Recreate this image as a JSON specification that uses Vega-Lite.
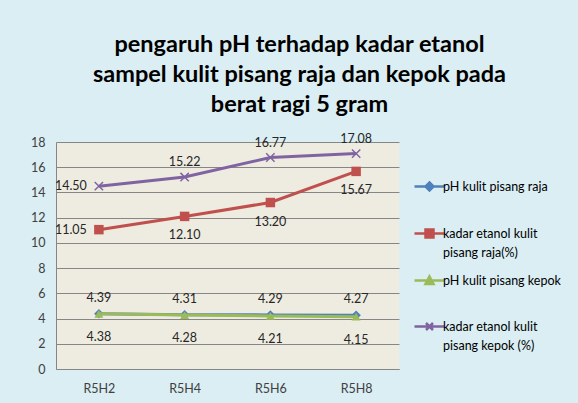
{
  "$schema": "https://vega.github.io/schema/vega-lite/v6.json",
  "autosize": "none",
  "width": 343,
  "height": 227,
  "padding": {"left": 56, "top": 142, "right": 179, "bottom": 34},
  "background": "#DAEEF3",
  "config": {
    "view": {"fill": "#EEECE1", "stroke": null},
    "font": "Lato",
    "axis": {"labelFont": "Lato", "labelColor": "#404040", "domainColor": "#868686", "gridColor": "#868686", "ticks": false, "title": null},
    "legend": {
      "labelFont": "Lato", "labelFontSize": 12.5, "labelColor": "#000000", "labelLineHeight": 19,
      "labelBaseline": "alphabetic", "labelOffset": 7, "labelLimit": 200,
      "symbolSize": 100, "symbolStrokeWidth": 2.5, "symbolOpacity": 1,
      "rowPadding": 12, "padding": 0
    }
  },
  "title": {
    "text": ["pengaruh pH terhadap kadar etanol", "sampel kulit pisang raja dan kepok pada", "berat ragi 5 gram"],
    "font": "Lato",
    "fontSize": 23.5,
    "fontWeight": "bold",
    "color": "#000000",
    "lineHeight": 30,
    "anchor": "middle",
    "dx": 72,
    "offset": 16
  },
  "data": {
    "values": [
      {"cat": "R5H2", "series": "pH kulit pisang raja", "value": 4.39},
      {"cat": "R5H4", "series": "pH kulit pisang raja", "value": 4.31},
      {"cat": "R5H6", "series": "pH kulit pisang raja", "value": 4.29},
      {"cat": "R5H8", "series": "pH kulit pisang raja", "value": 4.27},
      {"cat": "R5H2", "series": "kadar etanol kulit pisang raja(%)", "value": 11.05},
      {"cat": "R5H4", "series": "kadar etanol kulit pisang raja(%)", "value": 12.10},
      {"cat": "R5H6", "series": "kadar etanol kulit pisang raja(%)", "value": 13.20},
      {"cat": "R5H8", "series": "kadar etanol kulit pisang raja(%)", "value": 15.67},
      {"cat": "R5H2", "series": "pH kulit pisang kepok", "value": 4.38},
      {"cat": "R5H4", "series": "pH kulit pisang kepok", "value": 4.28},
      {"cat": "R5H6", "series": "pH kulit pisang kepok", "value": 4.21},
      {"cat": "R5H8", "series": "pH kulit pisang kepok", "value": 4.15},
      {"cat": "R5H2", "series": "kadar etanol kulit pisang kepok (%)", "value": 14.50},
      {"cat": "R5H4", "series": "kadar etanol kulit pisang kepok (%)", "value": 15.22},
      {"cat": "R5H6", "series": "kadar etanol kulit pisang kepok (%)", "value": 16.77},
      {"cat": "R5H8", "series": "kadar etanol kulit pisang kepok (%)", "value": 17.08}
    ]
  },
  "encoding": {
    "x": {
      "field": "cat", "type": "ordinal",
      "scale": {"type": "point", "padding": 0.5},
      "axis": {"labelAngle": 0, "labelFontSize": 12.5, "labelPadding": 13, "labelBaseline": "top", "domain": true}
    },
    "y": {
      "field": "value", "type": "quantitative",
      "scale": {"domain": [0, 18], "nice": false},
      "axis": {"values": [0, 2, 4, 6, 8, 10, 12, 14, 16, 18], "grid": true, "labelFontSize": 12.5, "labelPadding": 11, "domain": true}
    }
  },
  "layer": [
    {
      "mark": {"type": "point", "filled": true, "size": 0, "opacity": 1},
      "encoding": {
        "color": {
          "field": "series", "type": "nominal",
          "scale": {
            "domain": ["pH kulit pisang raja", "kadar etanol kulit pisang raja(%)", "pH kulit pisang kepok", "kadar etanol kulit pisang kepok (%)"],
            "range": ["#4F81BD", "#C0504D", "#9BBB59", "#8064A2"]
          },
          "legend": {
            "orient": "none", "legendX": 367, "legendY": 38, "title": null,
            "labelFontSize": 12.5, "labelLineHeight": 19, "labelOffset": 7, "rowPadding": 12,
            "labelExpr": "datum.label == 'kadar etanol kulit pisang raja(%)' ? ['kadar etanol kulit', 'pisang raja(%)'] : datum.label == 'kadar etanol kulit pisang kepok (%)' ? ['kadar etanol kulit', 'pisang kepok (%)'] : [datum.label, '']",
            "encode": {"labels": {"update": {"dy": {"value": 4}, "fontSize": {"value": 12.5}, "lineHeight": {"value": 19}}}}
          }
        },
        "stroke": {
          "field": "series", "type": "nominal",
          "scale": {
            "domain": ["pH kulit pisang raja", "kadar etanol kulit pisang raja(%)", "pH kulit pisang kepok", "kadar etanol kulit pisang kepok (%)"],
            "range": ["#4F81BD", "#C0504D", "#9BBB59", "#8064A2"]
          },
          "legend": {"orient": "none", "legendX": 367, "legendY": 38, "title": null,
            "labelFontSize": 12.5, "labelLineHeight": 19, "labelOffset": 7, "rowPadding": 12,
            "labelExpr": "datum.label == 'kadar etanol kulit pisang raja(%)' ? ['kadar etanol kulit', 'pisang raja(%)'] : datum.label == 'kadar etanol kulit pisang kepok (%)' ? ['kadar etanol kulit', 'pisang kepok (%)'] : [datum.label, '']",
            "encode": {"labels": {"update": {"dy": {"value": 4}, "fontSize": {"value": 12.5}, "lineHeight": {"value": 19}}}}}
        },
        "shape": {
          "field": "series", "type": "nominal",
          "scale": {
            "domain": ["pH kulit pisang raja", "kadar etanol kulit pisang raja(%)", "pH kulit pisang kepok", "kadar etanol kulit pisang kepok (%)"],
            "range": [
              "M-3,0H3M0,-0.8L0.8,0L0,0.8L-0.8,0Z",
              "M-3,0H3M-0.8,-0.8H0.8V0.8H-0.8Z",
              "M-3,0H3M0,-0.8L0.8,0.7H-0.8Z",
              "M-3,0H3M-0.7,-0.7L0.7,0.7M-0.7,0.7L0.7,-0.7"
            ]
          },
          "legend": {"orient": "none", "legendX": 367, "legendY": 38, "title": null,
            "labelFontSize": 12.5, "labelLineHeight": 19, "labelOffset": 7, "rowPadding": 12,
            "labelExpr": "datum.label == 'kadar etanol kulit pisang raja(%)' ? ['kadar etanol kulit', 'pisang raja(%)'] : datum.label == 'kadar etanol kulit pisang kepok (%)' ? ['kadar etanol kulit', 'pisang kepok (%)'] : [datum.label, '']",
            "encode": {"labels": {"update": {"dy": {"value": 4}, "fontSize": {"value": 12.5}, "lineHeight": {"value": 19}}}}}
        }
      }
    },
    {
      "transform": [{"filter": "datum.series == 'pH kulit pisang raja'"}],
      "mark": {"type": "line", "strokeWidth": 3, "color": "#4F81BD",
        "point": {"shape": "diamond", "filled": true, "size": 90, "opacity": 1, "color": "#4F81BD"}}
    },
    {
      "transform": [{"filter": "datum.series == 'kadar etanol kulit pisang raja(%)'"}],
      "mark": {"type": "line", "strokeWidth": 3, "color": "#C0504D",
        "point": {"shape": "square", "filled": true, "size": 90, "opacity": 1, "color": "#C0504D"}}
    },
    {
      "transform": [{"filter": "datum.series == 'pH kulit pisang kepok'"}],
      "mark": {"type": "line", "strokeWidth": 3, "color": "#9BBB59",
        "point": {"shape": "triangle-up", "filled": true, "size": 80, "opacity": 1, "color": "#9BBB59"}}
    },
    {
      "transform": [{"filter": "datum.series == 'kadar etanol kulit pisang kepok (%)'"}],
      "mark": {"type": "line", "strokeWidth": 3, "color": "#8064A2",
        "point": {"shape": "M-1,-1L1,1M-1,1L1,-1", "filled": false, "size": 70, "strokeWidth": 1.5, "opacity": 1, "color": "#8064A2"}}
    },
    {
      "transform": [{"filter": "datum.series == 'pH kulit pisang raja'"}],
      "mark": {"type": "text", "dy": -16, "fontSize": 12.5, "color": "#262626"},
      "encoding": {"text": {"field": "value", "type": "quantitative", "format": ".2f"}}
    },
    {
      "transform": [{"filter": "datum.series == 'pH kulit pisang kepok'"}],
      "mark": {"type": "text", "dy": 23, "fontSize": 12.5, "color": "#262626"},
      "encoding": {"text": {"field": "value", "type": "quantitative", "format": ".2f"}}
    },
    {
      "transform": [{"filter": "datum.series == 'kadar etanol kulit pisang raja(%)' && datum.cat != 'R5H2'"}],
      "mark": {"type": "text", "dy": 19, "fontSize": 12.5, "color": "#262626"},
      "encoding": {"text": {"field": "value", "type": "quantitative", "format": ".2f"}}
    },
    {
      "transform": [{"filter": "datum.series == 'kadar etanol kulit pisang kepok (%)' && datum.cat != 'R5H2'"}],
      "mark": {"type": "text", "dy": -15, "fontSize": 12.5, "color": "#262626"},
      "encoding": {"text": {"field": "value", "type": "quantitative", "format": ".2f"}}
    },
    {
      "transform": [{"filter": "datum.cat == 'R5H2' && (datum.series == 'kadar etanol kulit pisang kepok (%)' || datum.series == 'kadar etanol kulit pisang raja(%)')"}],
      "mark": {"type": "text", "align": "right", "dx": -12, "fontSize": 12.5, "color": "#262626"},
      "encoding": {"text": {"field": "value", "type": "quantitative", "format": ".2f"}}
    }
  ]
}
